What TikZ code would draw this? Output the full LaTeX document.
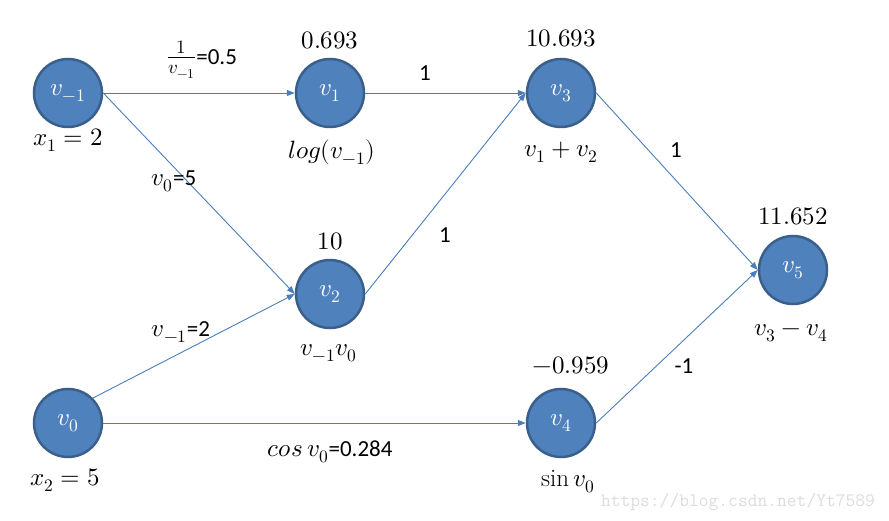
\documentclass[tikz,border=0pt]{standalone}
\usepackage{fontspec}
\usepackage{unicode-math}
\setsansfont{Carlito}
\usetikzlibrary{arrows.meta}
\definecolor{nodefill}{HTML}{4F81BD}
\definecolor{nodeborder}{HTML}{3A5F8B}
\definecolor{edgecol}{HTML}{4A7EBB}
\definecolor{wmark}{HTML}{DCDCDC}
\tikzset{
  vnode/.style={circle, fill=nodefill, draw=nodeborder, line width=2.5pt, minimum size=68pt, inner sep=0pt, text=white, font=\fontsize{25}{30}\selectfont},
  edge/.style={draw=edgecol, line width=0.9pt, -{Triangle[length=8pt,width=6pt]}},
  mlabel/.style={font=\fontsize{25}{30}\selectfont, inner sep=0pt},
  tlabel/.style={font=\sffamily\fontsize{23}{28}\selectfont, inner sep=0pt},
}
\begin{document}
\begin{tikzpicture}[x=1pt,y=-1pt]
\useasboundingbox (0,0) rectangle (889,521);
% nodes
\node[vnode] (vm1) at (68,93) {$v_{-1}$};
\node[vnode] (v1) at (330,93) {$v_1$};
\node[vnode] (v3) at (561,93) {$v_3$};
\node[vnode] (v2) at (330,294) {$v_2$};
\node[vnode] (v0) at (68,423) {$v_0$};
\node[vnode] (v4) at (561,423) {$v_4$};
\node[vnode] (v5) at (793,270) {$v_5$};
% edges
\draw[edge] (vm1.east) -- (v1.west);
\draw[edge] (vm1.east) -- (v2.west);
\draw[edge] (v1.east) -- (v3.west);
\draw[edge] (v2.east) -- (v3.west);
\draw[edge] (v0.north east) -- (v2.west);
\draw[edge] (v0.east) -- (v4.west);
\draw[edge] (v3.east) -- (v5.west);
\draw[edge] (v4.east) -- (v5.west);
% edge labels
\node[mlabel, font=\fontsize{27}{30}\selectfont] (lfrac) at (202,60) {$\frac{1}{v_{-1}}$\textsf{\fontsize{23}{28}\selectfont=0.5}};
\node[tlabel] (l13) at (425,73) {1};
\node[tlabel] (l35) at (676,150) {1};
\node[mlabel] (l02a) at (174,181) {$v_0$\textsf{\fontsize{23}{28}\selectfont=5}};
\node[tlabel] (l23) at (445,235) {1};
\node[mlabel] (l02b) at (181,332) {$v_{-1}$\textsf{\fontsize{23}{28}\selectfont=2}};
\node[tlabel] (l45) at (684,366) {-1};
\node[mlabel] (l04) at (330,452) {$cos\,v_0$\textsf{\fontsize{23}{28}\selectfont=0.284}};
% values above nodes
\node[mlabel] (val1) at (330,40) {$0.693$};
\node[mlabel] (val3) at (561,38) {$10.693$};
\node[mlabel] (val2) at (330,241) {$10$};
\node[mlabel] (val4) at (571,365) {$-0.959$};
\node[mlabel] (val5) at (793,216) {$11.652$};
% expressions below nodes
\node[mlabel] (exm1) at (68,140) {$x_1 = 2$};
\node[mlabel] (ex0) at (65,480) {$x_2 = 5$};
\node[mlabel] (ex1) at (332,152) {$log(v_{-1})$};
\node[mlabel] (ex3) at (561,152) {$v_1 + v_2$};
\node[mlabel] (ex2) at (329,353) {$v_{-1}v_0$};
\node[mlabel] (ex4) at (568,482) {$\sin v_0$};
\node[mlabel] (ex5) at (791,333) {$v_3 - v_4$};
% watermark
\node[inner sep=0pt, text=wmark, font=\ttfamily\fontsize{19}{22}\selectfont] (wm) at (738,502) {https://blog.csdn.net/Yt7589};
\end{tikzpicture}
\end{document}
